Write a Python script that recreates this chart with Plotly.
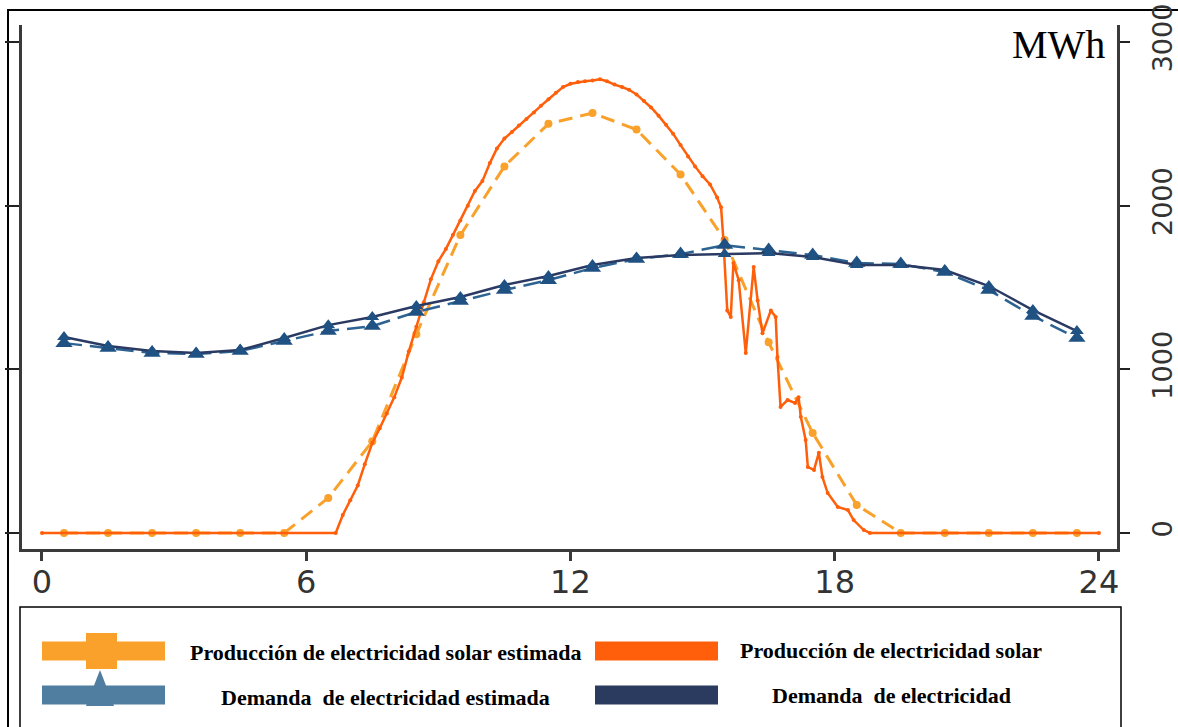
import plotly.graph_objects as go

# ---------------- data ----------------
hours_est = [h + 0.5 for h in range(24)]

solar_est = [0, 0, 0, 0, 0, 0, 214, 560, 1215, 1820, 2240, 2500, 2566, 2465,
             2190, 1790, 1165, 611, 171, 0, 0, 0, 0, 0]

solar_x = [0, 6.67, 6.83, 7.0, 7.17, 7.33, 7.5, 7.67, 7.83, 8.0, 8.17, 8.33, 8.5,
           8.67, 8.83, 9.0, 9.17, 9.33, 9.5, 9.67, 9.83, 10.0, 10.17, 10.33, 10.5,
           10.67, 10.83, 11.0, 11.17, 11.33, 11.5, 11.67, 11.83, 12.0, 12.17, 12.33,
           12.5, 12.67, 12.83, 13.0, 13.17, 13.33, 13.5, 13.67, 13.83, 14.0, 14.17,
           14.33, 14.5, 14.67, 14.83, 15.0, 15.17, 15.33, 15.42, 15.47, 15.56, 15.64,
           15.7, 15.82, 15.98, 16.16, 16.25, 16.36, 16.55, 16.66, 16.7, 16.77, 16.93,
           17.1, 17.18, 17.23, 17.34, 17.39, 17.53, 17.64, 17.72, 17.84, 18.07, 18.3,
           18.43, 18.66, 18.8, 24]
solar_y = [0, 0, 110, 200, 290, 420, 550, 640, 730, 830, 950, 1110, 1260,
           1410, 1550, 1660, 1735, 1820, 1910, 2000, 2090, 2150, 2260, 2350, 2410,
           2450, 2490, 2530, 2570, 2610, 2650, 2690, 2725, 2745, 2755, 2760,
           2765, 2772, 2760, 2740, 2725, 2708, 2680, 2640, 2600, 2550, 2495,
           2440, 2370, 2300, 2240, 2180, 2130, 2050, 1990, 1800, 1360, 1320,
           1650, 1545, 1100, 1625, 1420, 1220, 1360, 1320, 1075, 770, 812,
           794, 830, 710, 568, 403, 385, 490, 342, 244, 159, 140,
           79, 18, 0, 0]

demand_est = [1160, 1130, 1100, 1093, 1112, 1173, 1234, 1264, 1350, 1417, 1484,
              1545, 1619, 1674, 1704, 1759, 1729, 1698, 1650, 1643, 1594, 1484,
              1326, 1191]
demand = [1197, 1142, 1112, 1100, 1118, 1191, 1270, 1320, 1387, 1442, 1515,
          1570, 1637, 1680, 1698, 1704, 1710, 1686, 1637, 1637, 1607, 1509,
          1362, 1234]

x_ticks = [0, 6, 12, 18, 24]
y_ticks = [0, 1000, 2000, 3000]

legend_labels = ["Producción de electricidad solar estimada",
                 "Producción de electricidad solar",
                 "Demanda  de electricidad estimada",
                 "Demanda  de electricidad"]

# ---------------- styling ----------------
C_SOLAR_EST = "#F9A12A"
C_SOLAR = "#FF5F0A"
C_DEM_EST = "#2C6392"
C_DEM_EST_MK = "#1F5283"
C_DEM = "#2A3A62"
C_LEG_DEM_EST = "#4F7EA0"
C_LEG_DEM = "#2B3B5F"
AX = "#3a3a3a"

W, H = 1178, 727
L, R, T, B = 22, 61, 25, 178
PW, PH = W - L - R, H - T - B


def px(xp):
    return (xp - L) / PW


def py(yp):
    return (H - B - yp) / PH


fig = go.Figure()

fig.add_trace(go.Scatter(
    x=hours_est, y=solar_est, mode="lines+markers",
    line=dict(color=C_SOLAR_EST, width=3, dash="14px,8px"),
    marker=dict(color=C_SOLAR_EST, size=8, symbol="circle"),
    showlegend=False))

fig.add_trace(go.Scatter(
    x=solar_x, y=solar_y, mode="lines+markers",
    line=dict(color=C_SOLAR, width=2.5),
    marker=dict(color=C_SOLAR, size=4),
    showlegend=False))

fig.add_trace(go.Scatter(
    x=hours_est, y=demand_est, mode="lines+markers",
    line=dict(color=C_DEM_EST, width=2.5, dash="18px,8px"),
    marker=dict(color=C_DEM_EST_MK, size=15, symbol="triangle-up"),
    showlegend=False))

fig.add_trace(go.Scatter(
    x=hours_est, y=demand, mode="lines+markers",
    line=dict(color=C_DEM, width=2.5),
    marker=dict(color=C_DEM_EST_MK, size=12, symbol="triangle-up"),
    showlegend=False))

# secondary axis carrier (invisible)
fig.add_trace(go.Scatter(x=[None], y=[None], yaxis="y2", showlegend=False,
                         hoverinfo="skip"))

fig.update_layout(
    width=W, height=H,
    margin=dict(l=L, r=R, t=T, b=B),
    paper_bgcolor="white", plot_bgcolor="white",
    showlegend=False,
    xaxis=dict(range=[-0.454, 24.41], tickvals=x_ticks, showgrid=False,
               zeroline=False, showline=True, linecolor=AX, linewidth=3,
               ticks="outside", ticklen=9, tickwidth=3, tickcolor=AX,
               ticklabelstandoff=-6, automargin=False,
               tickfont=dict(family="DejaVu Sans", size=32, color="#333333")),
    yaxis=dict(range=[-98, 3104], tickvals=y_ticks, showgrid=False,
               zeroline=False, showline=True, linecolor=AX, linewidth=3,
               ticks="outside", ticklen=14, tickwidth=2, tickcolor="#222",
               showticklabels=False, automargin=False),
    yaxis2=dict(range=[-98, 3104], tickvals=y_ticks, overlaying="y",
                side="right", showgrid=False, zeroline=False, showline=True,
                linecolor=AX, linewidth=3, ticks="outside", ticklen=10,
                tickwidth=2, tickcolor="#222", tickangle=-90,
                ticklabelstandoff=10, automargin=False,
                tickfont=dict(family="DejaVu Sans", size=27, color="#333333")),
)

shapes = []
# outer frame
shapes.append(dict(type="rect", xref="paper", yref="paper",
                   x0=px(8), x1=px(1180), y0=py(730), y1=py(10),
                   line=dict(color="black", width=2), fillcolor="rgba(0,0,0,0)",
                   layer="below"))
# legend box
shapes.append(dict(type="rect", xref="paper", yref="paper",
                   x0=px(20), x1=px(1121), y0=py(735), y1=py(607),
                   line=dict(color="black", width=1.5),
                   fillcolor="rgba(0,0,0,0)"))


def bar(x0, x1, yc, h, color):
    shapes.append(dict(type="rect", xref="paper", yref="paper",
                       x0=px(x0), x1=px(x1), y0=py(yc + h / 2), y1=py(yc - h / 2),
                       line=dict(width=0), fillcolor=color))


bar(42, 165, 651, 19, C_SOLAR_EST)
bar(86, 117, 651, 36, C_SOLAR_EST)
bar(42, 165, 695, 19, C_LEG_DEM_EST)
bar(595, 718, 651, 19, C_SOLAR)
bar(595, 718, 695, 19, C_LEG_DEM)
shapes.append(dict(type="path", xref="paper", yref="paper",
                   path=f"M {px(86)},{py(706)} L {px(114)},{py(706)} L {px(100)},{py(670)} Z",
                   line=dict(width=0), fillcolor=C_LEG_DEM_EST))

fig.update_layout(shapes=shapes)

annots = []
legfont = dict(family="Liberation Serif", size=22, color="black")
for txt, xc, yc in [(legend_labels[0], 385, 652), (legend_labels[1], 891, 650),
                    (legend_labels[2], 385, 697), (legend_labels[3], 891, 695)]:
    annots.append(dict(text=f"<b>{txt}</b>", xref="paper", yref="paper",
                       x=px(xc), y=py(yc), xanchor="center", yanchor="middle",
                       showarrow=False, font=legfont))
annots.append(dict(text="MWh", xref="paper", yref="paper", x=px(1107), y=py(45),
                   xanchor="right", yanchor="middle", showarrow=False,
                   font=dict(family="Liberation Serif", size=40, color="black")))
fig.update_layout(annotations=annots)

fig.write_html("out.html", config={"displayModeBar": False},
               post_script="document.body.style.margin='0px';document.body.style.overflow='hidden';")
